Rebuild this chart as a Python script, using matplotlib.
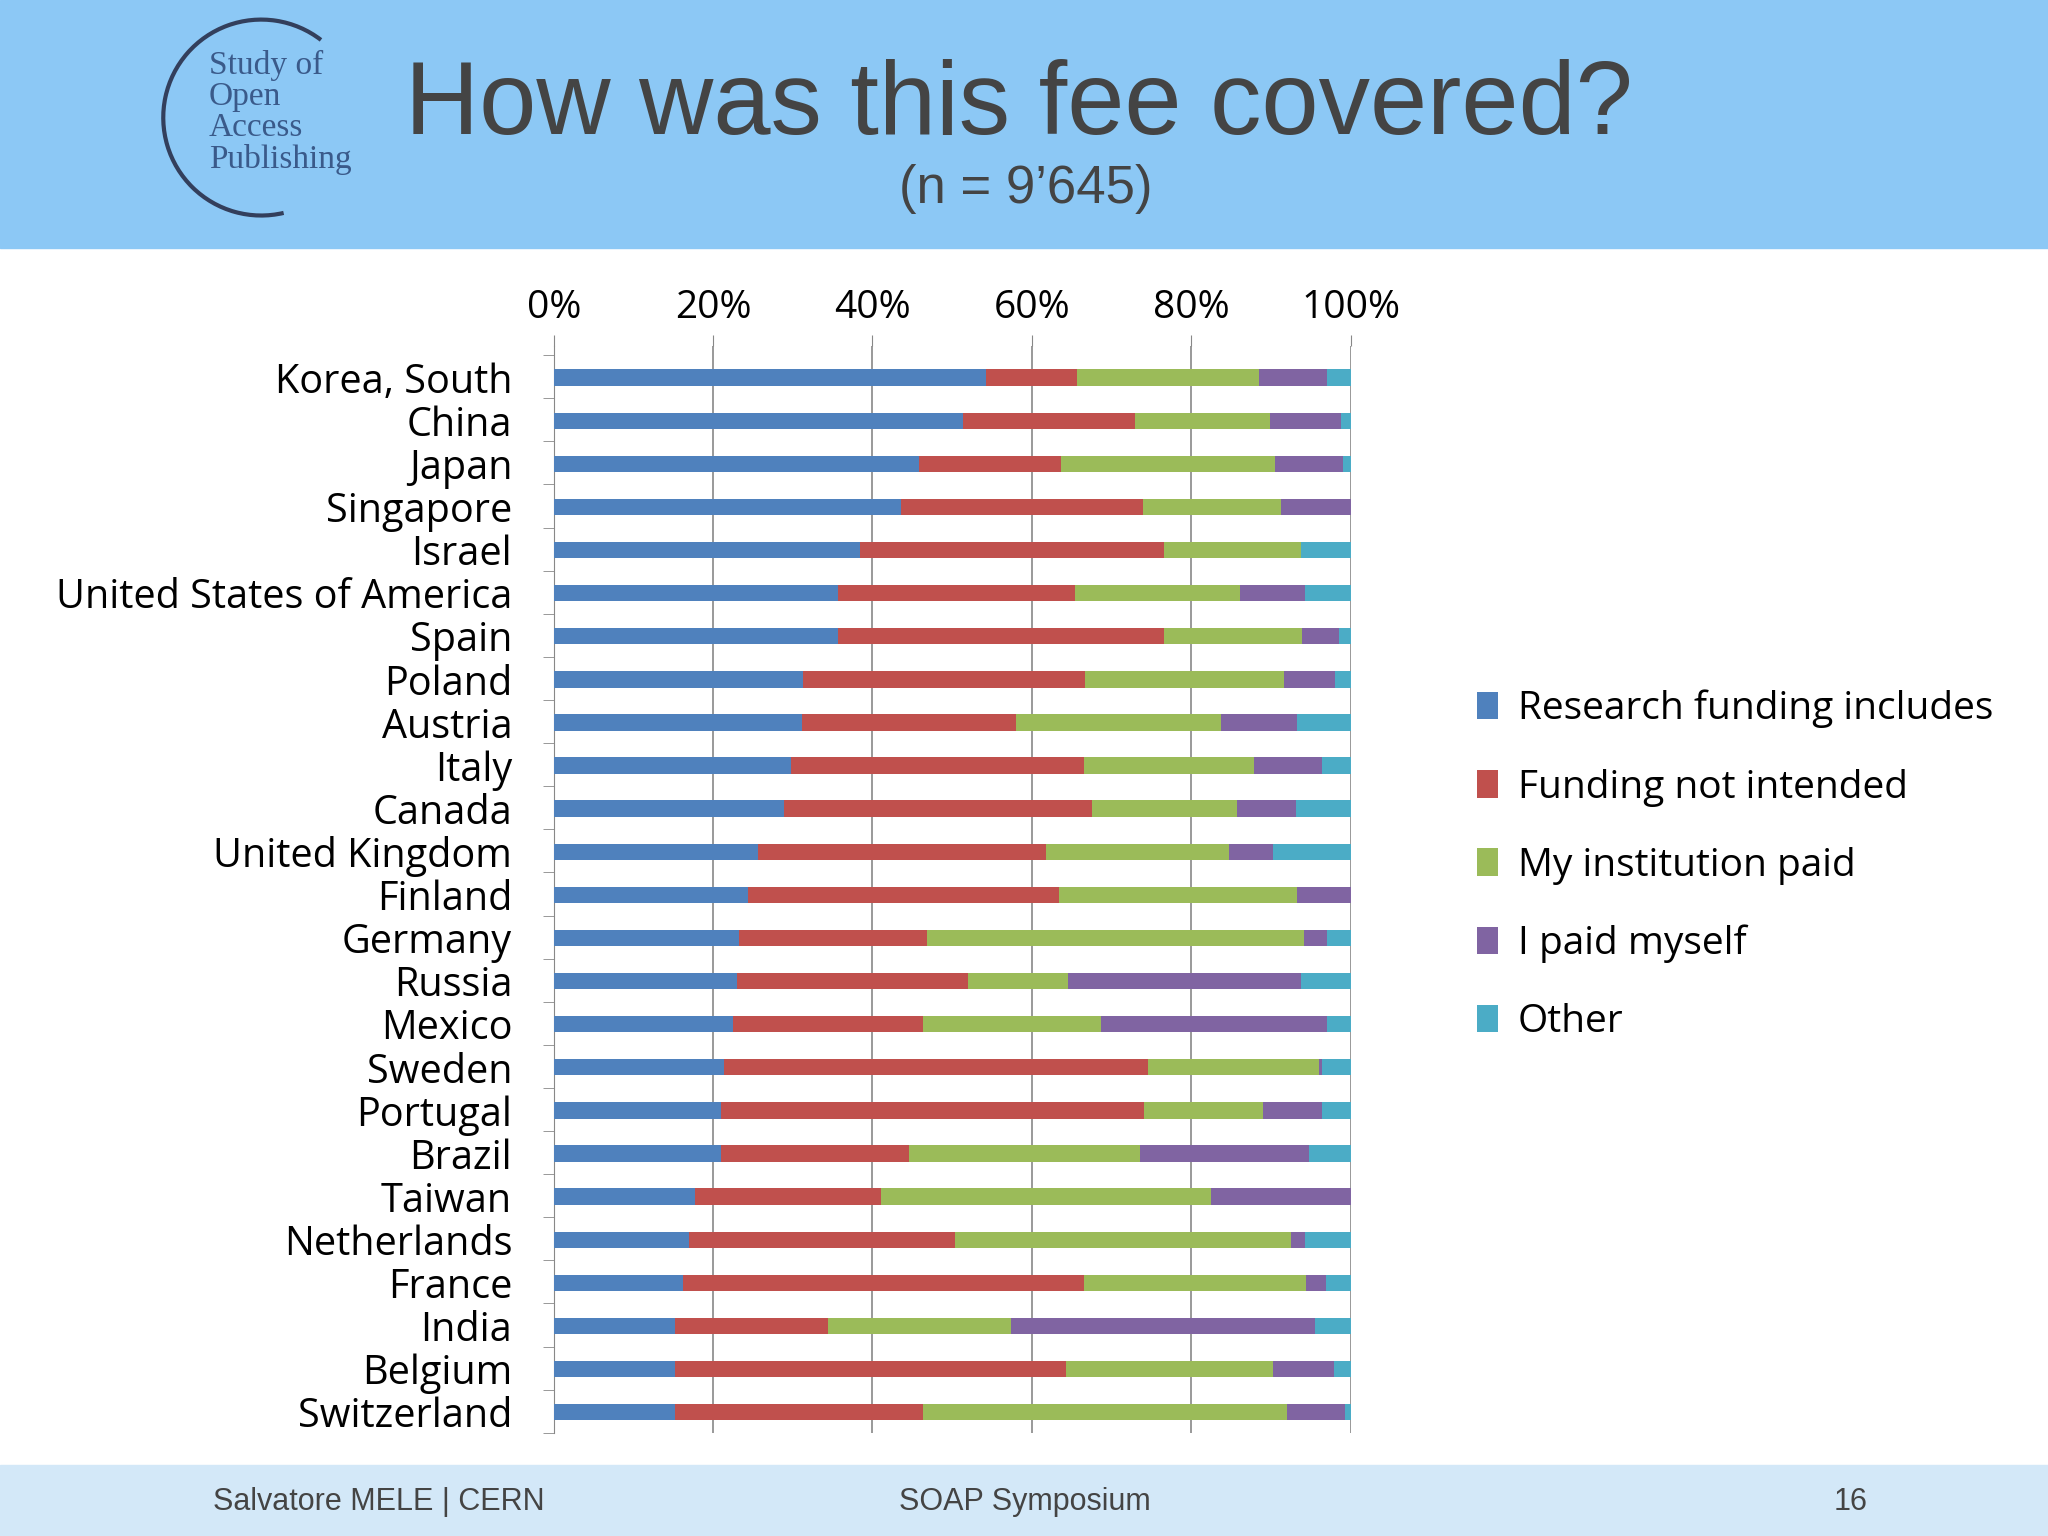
import matplotlib
matplotlib.use("Agg")
import matplotlib.pyplot as plt
import numpy as np
from matplotlib.patches import Rectangle, Arc

countries = ["Korea, South","China","Japan","Singapore","Israel","United States of America","Spain",
             "Poland","Austria","Italy","Canada","United Kingdom","Finland","Germany","Russia","Mexico",
             "Sweden","Portugal","Brazil","Taiwan","Netherlands","France","India","Belgium","Switzerland"]
research = [54.3,51.3,45.9,43.6,38.4,35.7,35.7,31.3,31.1,29.8,28.9,25.6,24.4,23.3,23.0,22.5,21.3,21.0,21.0,17.7,17.0,16.2,15.2,15.2,15.2]
not_intended = [11.4,21.7,17.7,30.3,38.2,29.7,40.9,35.4,26.9,36.8,38.6,36.2,39.0,23.6,29.0,23.9,53.3,53.1,23.6,23.4,33.3,50.4,19.2,49.1,31.2]
institution = [22.8,16.9,26.9,17.4,17.2,20.7,17.3,24.9,25.8,21.3,18.2,23.0,29.9,47.2,12.6,22.3,21.5,14.9,29.0,41.4,42.2,27.8,23.0,26.0,45.6]
myself = [8.5,8.9,8.5,8.7,0.0,8.2,4.6,6.4,9.5,8.5,7.4,5.5,6.7,2.9,29.2,28.3,0.3,7.4,21.2,17.5,1.8,2.5,38.2,7.6,7.3]
other = [3.0,1.2,1.0,0.0,6.2,5.7,1.5,2.0,6.7,3.6,6.9,9.7,0.0,3.0,6.2,3.0,3.6,3.6,5.2,0.0,5.7,3.1,4.4,2.1,0.7]
series_names = ["Research funding includes","Funding not intended","My institution paid","I paid myself","Other"]
colors = ["#4F81BD","#C0504D","#9BBB59","#8064A2","#4BACC6"]
ticks = [0,20,40,60,80,100]

fig = plt.figure(figsize=(20.48,15.36), dpi=100)
fig.patch.set_facecolor("white")
bg = fig.add_axes([0,0,1,1]); bg.set_xlim(0,1); bg.set_ylim(0,1); bg.axis("off")
bg.add_patch(Rectangle((0,1-190/1176),1,190/1176,color="#8CC8F5",zorder=0))
bg.add_patch(Rectangle((0,0),1,54/1176,color="#D3E8F8",zorder=0))
bg.text(780/1568,1-82/1176,"How was this fee covered?",fontsize=74,color="#444444",ha="center",va="center",family="Liberation Sans")
bg.text(785/1568,1-145/1176,"(n = 9’645)",fontsize=38,color="#444444",ha="center",va="center",family="Liberation Sans")
bg.text(163/1568,1-1150/1176,"Salvatore MELE | CERN",fontsize=22,color="#444444",va="center",family="Liberation Sans")
bg.text(785/1568,1-1150/1176,"SOAP Symposium",fontsize=22,color="#444444",ha="center",va="center",family="Liberation Sans")
bg.text(1430/1568,1-1150/1176,"16",fontsize=22,color="#444444",ha="right",va="center",family="Liberation Sans")
bg.add_patch(Arc((200/1568,1-90/1176),150/1568,150/1176,theta1=60,theta2=280,color="#333F5C",lw=3))
for i,t in enumerate(["Study of","Open","Access","Publishing"]):
    bg.text(160/1568,1-(50+24*i)/1176,t,fontsize=24,color="#3A5A8A",va="center",family="Liberation Serif")

ax = fig.add_axes([424/1568,1-1097/1176,610/1568,(1097-265)/1176])
y = np.arange(len(countries))
left = np.zeros(len(countries))
for vals,c,n in zip([research,not_intended,institution,myself,other],colors,series_names):
    ax.barh(y,vals,left=left,height=0.38,color=c,label=n,zorder=3)
    left += np.array(vals)
ax.set_xlim(0,100); ax.set_ylim(len(countries)-0.52,-0.73)
ax.xaxis.tick_top()
ax.set_xticks(ticks); ax.set_xticklabels([f"{t}%" for t in ticks],fontsize=28,family="Open Sans")
ax.set_yticks(y); ax.set_yticklabels(countries,fontsize=28.5,family="Open Sans")
ax.set_yticks(np.arange(len(countries)+1)-0.52,minor=True)
ax.tick_params(axis="y",which="major",length=0,pad=30)
ax.tick_params(axis="y",which="minor",length=8,color="#888888")
ax.tick_params(axis="x",length=8,color="#888888",pad=6)
ax.grid(axis="x",color="#888888",lw=1.2,zorder=0)
for s in ["right","bottom","top"]: ax.spines[s].set_visible(False)
ax.spines["left"].set_color("#888888")
ax.legend(loc="center left",bbox_to_anchor=((1104-424)/610,0.522),frameon=False,
          prop={"family":"Open Sans","size":28},handlelength=0.55,handleheight=0.7,handletextpad=0.5,labelspacing=1.03)
fig.savefig("out.png",dpi=100)
